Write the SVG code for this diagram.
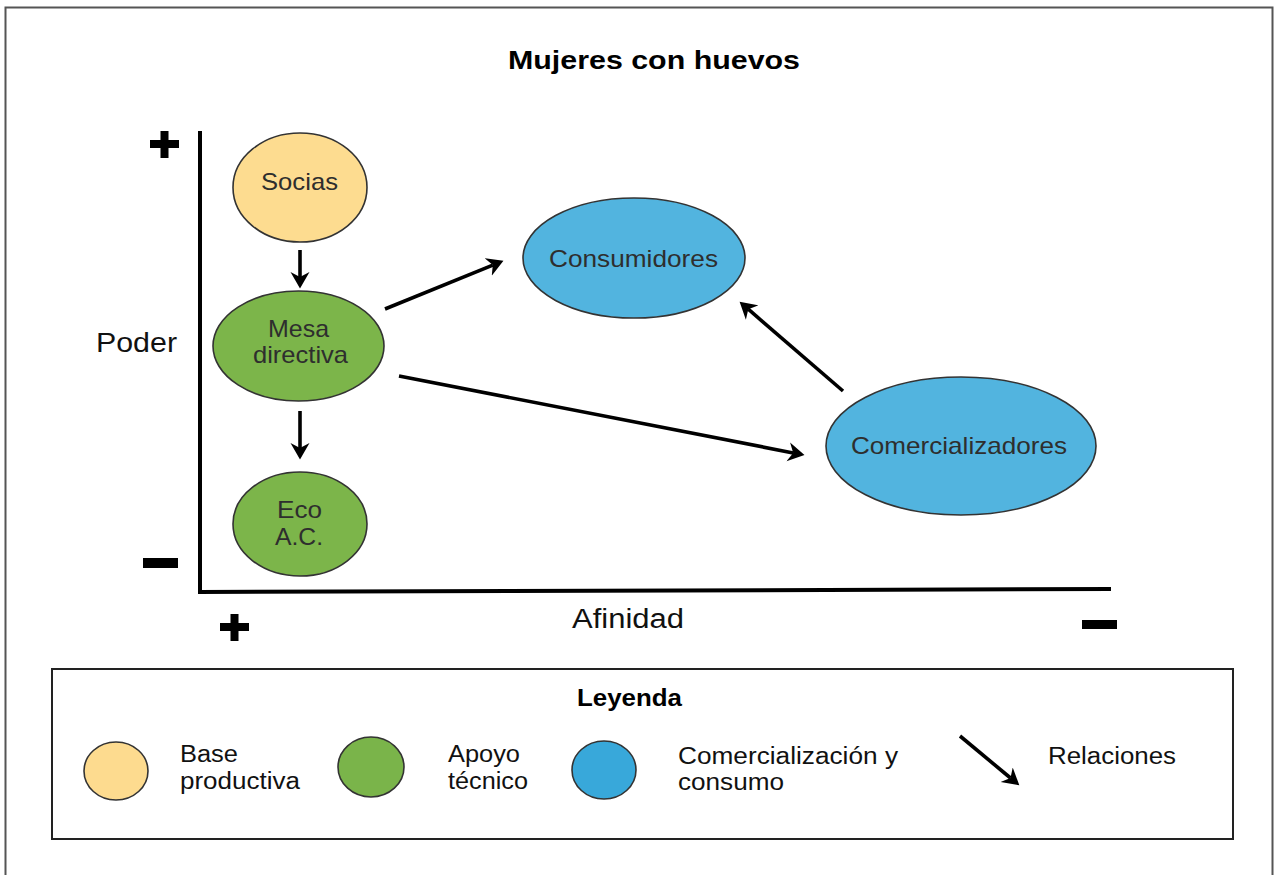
<svg xmlns="http://www.w3.org/2000/svg" width="1277" height="875" viewBox="0 0 1277 875">
<style>
text{font-family:"Liberation Sans",Arial,Helvetica,sans-serif}
.nt{font-size:24px;fill:#2e2e2e;text-anchor:middle}
.lt{font-size:23px;fill:#111}
.ax{font-size:27px;fill:#111}
.b{font-weight:bold;fill:#000}
.node{stroke:#333;stroke-width:1.6}
.yel{fill:#FDDC90}
.grn{fill:#7CB54A}
.blu{fill:#52B4DF}
.conn line{stroke:#000;stroke-width:3.6;marker-end:url(#ah)}
.axis{stroke:#000;stroke-width:4;fill:none}
</style>
<defs>
<marker id="ah" markerUnits="userSpaceOnUse" markerWidth="20" markerHeight="20" refX="5" refY="10" orient="auto">
<path d="M0,0.5 L16.5,10 L0,19.5 L5,10 Z" fill="#000"/>
</marker>
</defs>
<rect x="0" y="0" width="1277" height="875" fill="#fff"/>
<rect x="5.5" y="7.5" width="1267" height="880" fill="none" stroke="#555" stroke-width="2"/>

<text x="654" y="69" class="b" font-size="26" text-anchor="middle" textLength="292" lengthAdjust="spacingAndGlyphs">Mujeres con huevos</text>

<g id="axes">
<path class="axis" d="M200,131 L200,592 L1111,589"/>
<rect x="150" y="140" width="29" height="8" fill="#000"/>
<rect x="160.5" y="131" width="8" height="27" fill="#000"/>
<rect x="143" y="558" width="35" height="10" fill="#000"/>
<rect x="220" y="623" width="29" height="8" fill="#000"/>
<rect x="230.5" y="614" width="8" height="27" fill="#000"/>
<rect x="1082" y="620" width="35" height="9" fill="#000"/>
<text x="96" y="352" class="ax" textLength="81" lengthAdjust="spacingAndGlyphs">Poder</text>
<text x="572" y="628" class="ax" textLength="112" lengthAdjust="spacingAndGlyphs">Afinidad</text>
</g>

<g id="socias">
<ellipse class="node yel" cx="300" cy="187.5" rx="67" ry="54.5"/>
<text x="299.5" y="190" class="nt" textLength="77" lengthAdjust="spacingAndGlyphs">Socias</text>
</g>
<g id="mesa">
<ellipse class="node grn" cx="298.5" cy="346" rx="85.5" ry="55"/>
<text x="298.5" y="337" class="nt" textLength="61" lengthAdjust="spacingAndGlyphs">Mesa</text>
<text x="300.5" y="363" class="nt" textLength="95" lengthAdjust="spacingAndGlyphs">directiva</text>
</g>
<g id="eco">
<ellipse class="node grn" cx="300" cy="524" rx="67" ry="52"/>
<text x="299.5" y="518" class="nt" textLength="45" lengthAdjust="spacingAndGlyphs">Eco</text>
<text x="299" y="545" class="nt" textLength="48" lengthAdjust="spacingAndGlyphs">A.C.</text>
</g>
<g id="consumidores">
<ellipse class="node blu" cx="634" cy="258" rx="111" ry="60"/>
<text x="633.5" y="267" class="nt" textLength="169" lengthAdjust="spacingAndGlyphs">Consumidores</text>
</g>
<g id="comercializadores">
<ellipse class="node blu" cx="961" cy="446" rx="135" ry="69"/>
<text x="959" y="454" class="nt" textLength="216" lengthAdjust="spacingAndGlyphs">Comercializadores</text>
</g>

<g id="connectors" class="conn">
<line x1="300" y1="250" x2="300" y2="277"/>
<line x1="300" y1="411" x2="300" y2="448"/>
<line x1="385" y1="309" x2="492.8" y2="265.1"/>
<line x1="399" y1="376" x2="793.2" y2="452.9"/>
<line x1="843" y1="391" x2="748.3" y2="309.2"/>
</g>

<g id="legend">
<rect x="52" y="669" width="1181" height="170" fill="none" stroke="#222" stroke-width="2"/>
<text x="629.5" y="706" class="lt b" text-anchor="middle" textLength="105" lengthAdjust="spacingAndGlyphs">Leyenda</text>
<ellipse class="node" cx="116" cy="771" rx="32" ry="29" fill="#FDDB8F"/>
<text x="180" y="762" class="lt" textLength="58" lengthAdjust="spacingAndGlyphs">Base</text>
<text x="180" y="789" class="lt" textLength="120" lengthAdjust="spacingAndGlyphs">productiva</text>
<ellipse class="node" cx="371" cy="767" rx="33" ry="30" fill="#7AB44A"/>
<text x="448" y="762" class="lt" textLength="72" lengthAdjust="spacingAndGlyphs">Apoyo</text>
<text x="448" y="789" class="lt" textLength="80" lengthAdjust="spacingAndGlyphs">técnico</text>
<ellipse class="node" cx="604" cy="770" rx="32" ry="29" fill="#38A8DA"/>
<text x="678" y="764" class="lt" textLength="220" lengthAdjust="spacingAndGlyphs">Comercialización y</text>
<text x="678" y="790" class="lt" textLength="106" lengthAdjust="spacingAndGlyphs">consumo</text>
<line x1="960" y1="736" x2="1010.5" y2="778" stroke="#000" stroke-width="3.6" marker-end="url(#ah)"/>
<text x="1048" y="764" class="lt" textLength="128" lengthAdjust="spacingAndGlyphs">Relaciones</text>
</g>
</svg>
